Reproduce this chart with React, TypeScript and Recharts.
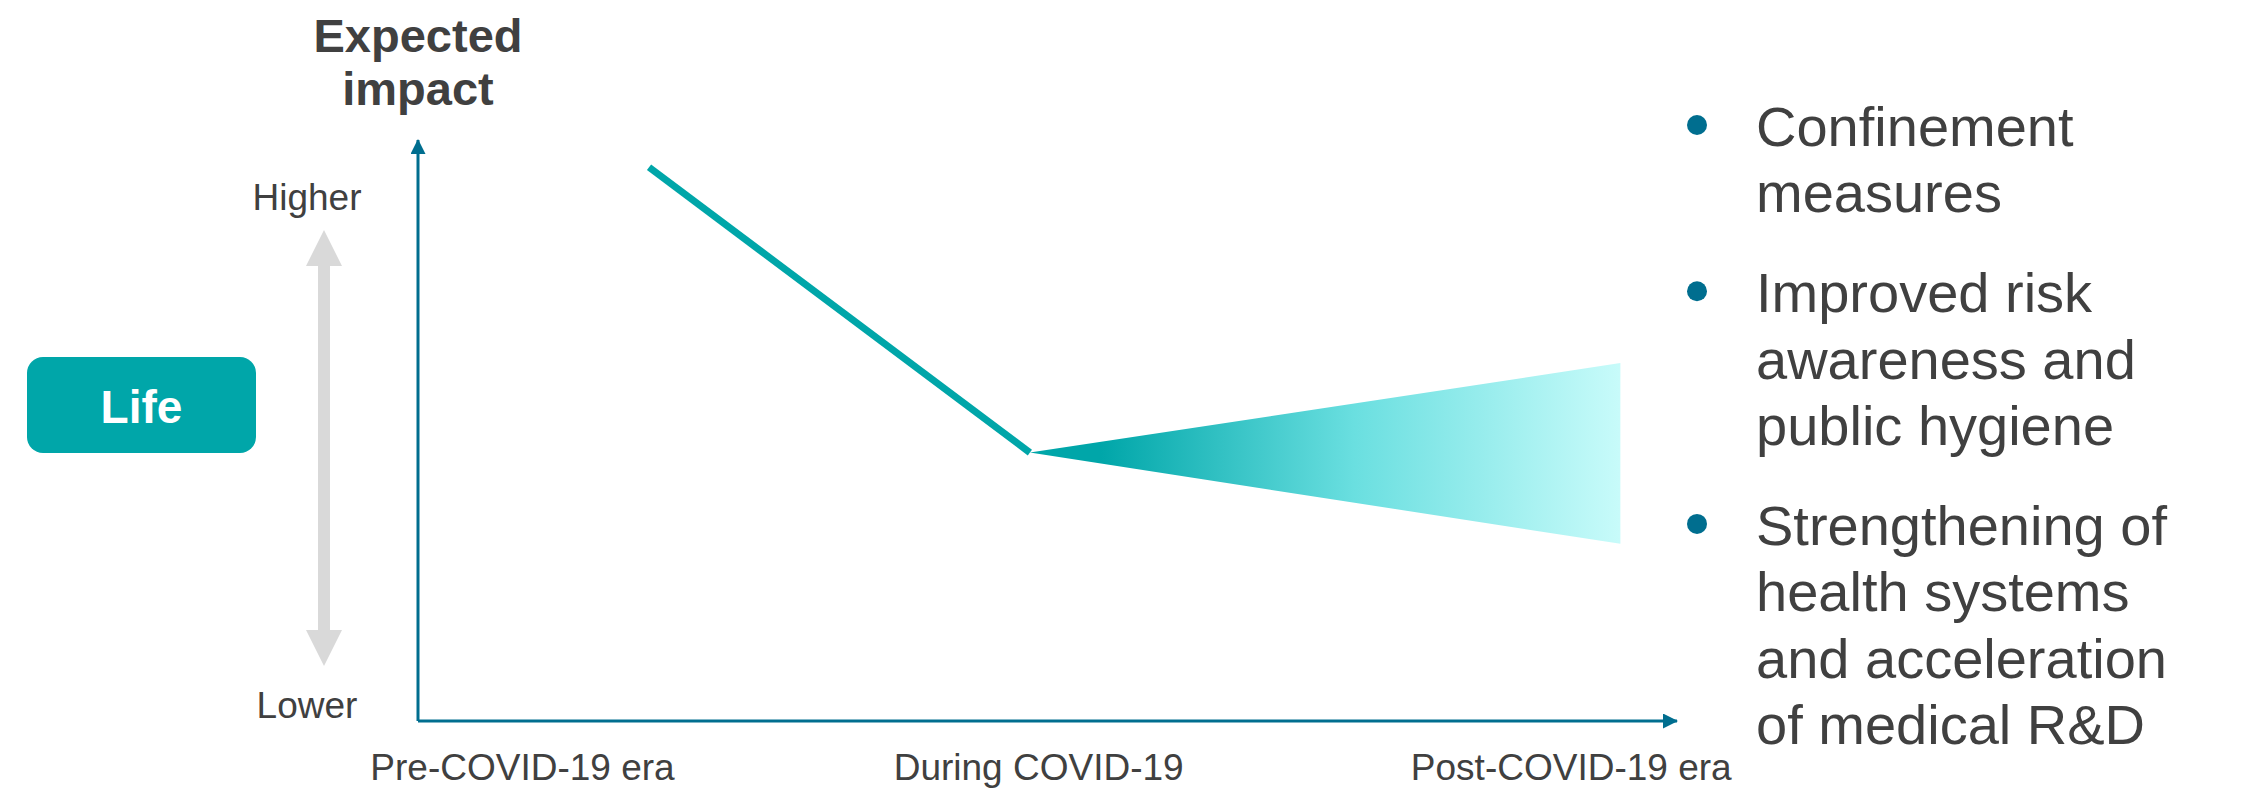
import React from "react";
import {
  ComposedChart,
  Line,
  Area,
  XAxis,
  YAxis,
  Customized,
} from "recharts";

// Horizontal positions of the three eras on the 0–100 time scale
const eraLabels = ["Pre-COVID-19 era", "During COVID-19", "Post-COVID-19 era"];
const eraTicks = [8.3, 49.3, 91.6];

// Vertical scale labels (expected impact, 0–100)
const impactLabels = ["Higher", "Lower"];
const impactTicks = [90.2, 2.75];

// Path of expected impact: decline into COVID-19, then a widening range of outcomes
const pathX = [18.35, 48.6, 95.5];
const impactPath = [95.3, 46.2, null];
const outlookLow = [null, 46.2, 30.5];
const outlookHigh = [null, 46.2, 61.6];

// Drivers listed beside the chart
const drivers = [
  ["Confinement", "measures"],
  ["Improved risk", "awareness and", "public hygiene"],
  ["Strengthening of", "health systems", "and acceleration", "of medical R&D"],
];

const dimension = "Life";
const titleLines = ["Expected", "impact"];

const data = pathX.map((x, i) => ({
  x,
  impact: impactPath[i],
  outlook:
    outlookLow[i] == null || outlookHigh[i] == null
      ? null
      : [outlookLow[i], outlookHigh[i]],
}));

const FONT = '"Liberation Sans", Arial, Helvetica, sans-serif';
const TEXT = "#404040";
const TEAL = "#00A6A9";
const AXIS = "#006E8F";

const W = 2249;
const H = 790;
const Y_AXIS_W = 120;

const XTick = (props: any) => {
  const { x, y, payload } = props;
  const idx = eraTicks.indexOf(payload.value);
  return (
    <text
      x={x}
      y={y + 59}
      textAnchor="middle"
      fontFamily={FONT}
      fontSize={37}
      fill={TEXT}
    >
      {eraLabels[idx]}
    </text>
  );
};

const YTick = (props: any) => {
  const { x, y, payload } = props;
  const idx = impactTicks.indexOf(payload.value);
  return (
    <text
      x={x - 111}
      y={y + 13}
      textAnchor="middle"
      fontFamily={FONT}
      fontSize={37}
      fill={TEXT}
    >
      {impactLabels[idx]}
    </text>
  );
};

const Decorations = () => {
  const lineH = 66.3;
  const gap = 100;
  let baseline = 146;
  const items: React.ReactNode[] = [];
  drivers.forEach((lines, i) => {
    if (i > 0) baseline += gap - lineH;
    items.push(
      <circle key={`b${i}`} cx={1697} cy={baseline - 21} r={10} fill={AXIS} />
    );
    lines.forEach((ln, j) => {
      items.push(
        <text
          key={`t${i}-${j}`}
          x={1756}
          y={baseline}
          fontFamily={FONT}
          fontSize={56}
          fill={TEXT}
        >
          {ln}
        </text>
      );
      baseline += lineH;
    });
  });

  return (
    <g>
      {/* axis title */}
      {titleLines.map((t, i) => (
        <text
          key={t}
          x={418}
          y={52 + i * 53}
          textAnchor="middle"
          fontFamily={FONT}
          fontWeight="bold"
          fontSize={47}
          fill={TEXT}
        >
          {t}
        </text>
      ))}
      {/* higher / lower double arrow */}
      <polygon
        points="324,230 342,266 330,266 330,630 342,630 324,666 306,630 318,630 318,266 306,266"
        fill="#D9D9D9"
      />
      {/* dimension badge */}
      <rect x={27} y={357} width={229} height={96} rx={16} ry={16} fill={TEAL} />
      <text
        x={141.5}
        y={423}
        textAnchor="middle"
        fontFamily={FONT}
        fontWeight="bold"
        fontSize={46}
        fill="#FFFFFF"
      >
        {dimension}
      </text>
      {items}
    </g>
  );
};

export default function App() {
  return (
    <div style={{ position: "absolute", left: 0, top: 0, width: W, height: H, background: "#fff" }}>
      <ComposedChart
        width={W}
        height={H}
        data={data}
        margin={{ top: 140, right: W - 1677, bottom: 0, left: 418 - Y_AXIS_W }}
      >
        <defs>
          <marker
            id="axisArrow"
            viewBox="0 0 15 15"
            markerUnits="userSpaceOnUse"
            markerWidth={15}
            markerHeight={15}
            refX={14}
            refY={7.5}
            orient="auto-start-reverse"
          >
            <path d="M0,0 L15,7.5 L0,15 z" fill={AXIS} />
          </marker>
          <linearGradient id="outlookFill" x1="0" y1="0" x2="1" y2="0">
            <stop offset="0" stopColor={TEAL} />
            <stop offset="0.12" stopColor={TEAL} />
            <stop offset="0.55" stopColor="#6ADFE0" />
            <stop offset="1" stopColor="#C8FBFA" />
          </linearGradient>
        </defs>
        <XAxis
          dataKey="x"
          type="number"
          domain={[0, 100]}
          ticks={eraTicks}
          tick={<XTick />}
          tickLine={false}
          tickSize={0}
          tickMargin={0}
          height={69}
          axisLine={{ stroke: AXIS, strokeWidth: 3, markerEnd: "url(#axisArrow)" }}
          interval={0}
        />
        <YAxis
          type="number"
          domain={[0, 100]}
          ticks={impactTicks}
          tick={<YTick />}
          tickLine={false}
          tickSize={0}
          tickMargin={0}
          width={Y_AXIS_W}
          axisLine={{ stroke: AXIS, strokeWidth: 3, markerStart: "url(#axisArrow)" }}
          interval={0}
        />
        <Area
          dataKey="outlook"
          type="linear"
          stroke="none"
          fill="url(#outlookFill)"
          fillOpacity={1}
          isAnimationActive={false}
          activeDot={false}
          dot={false}
        />
        <Line
          dataKey="impact"
          type="linear"
          stroke={TEAL}
          strokeWidth={7}
          dot={false}
          activeDot={false}
          isAnimationActive={false}
        />
        <Customized component={Decorations} />
      </ComposedChart>
    </div>
  );
}
